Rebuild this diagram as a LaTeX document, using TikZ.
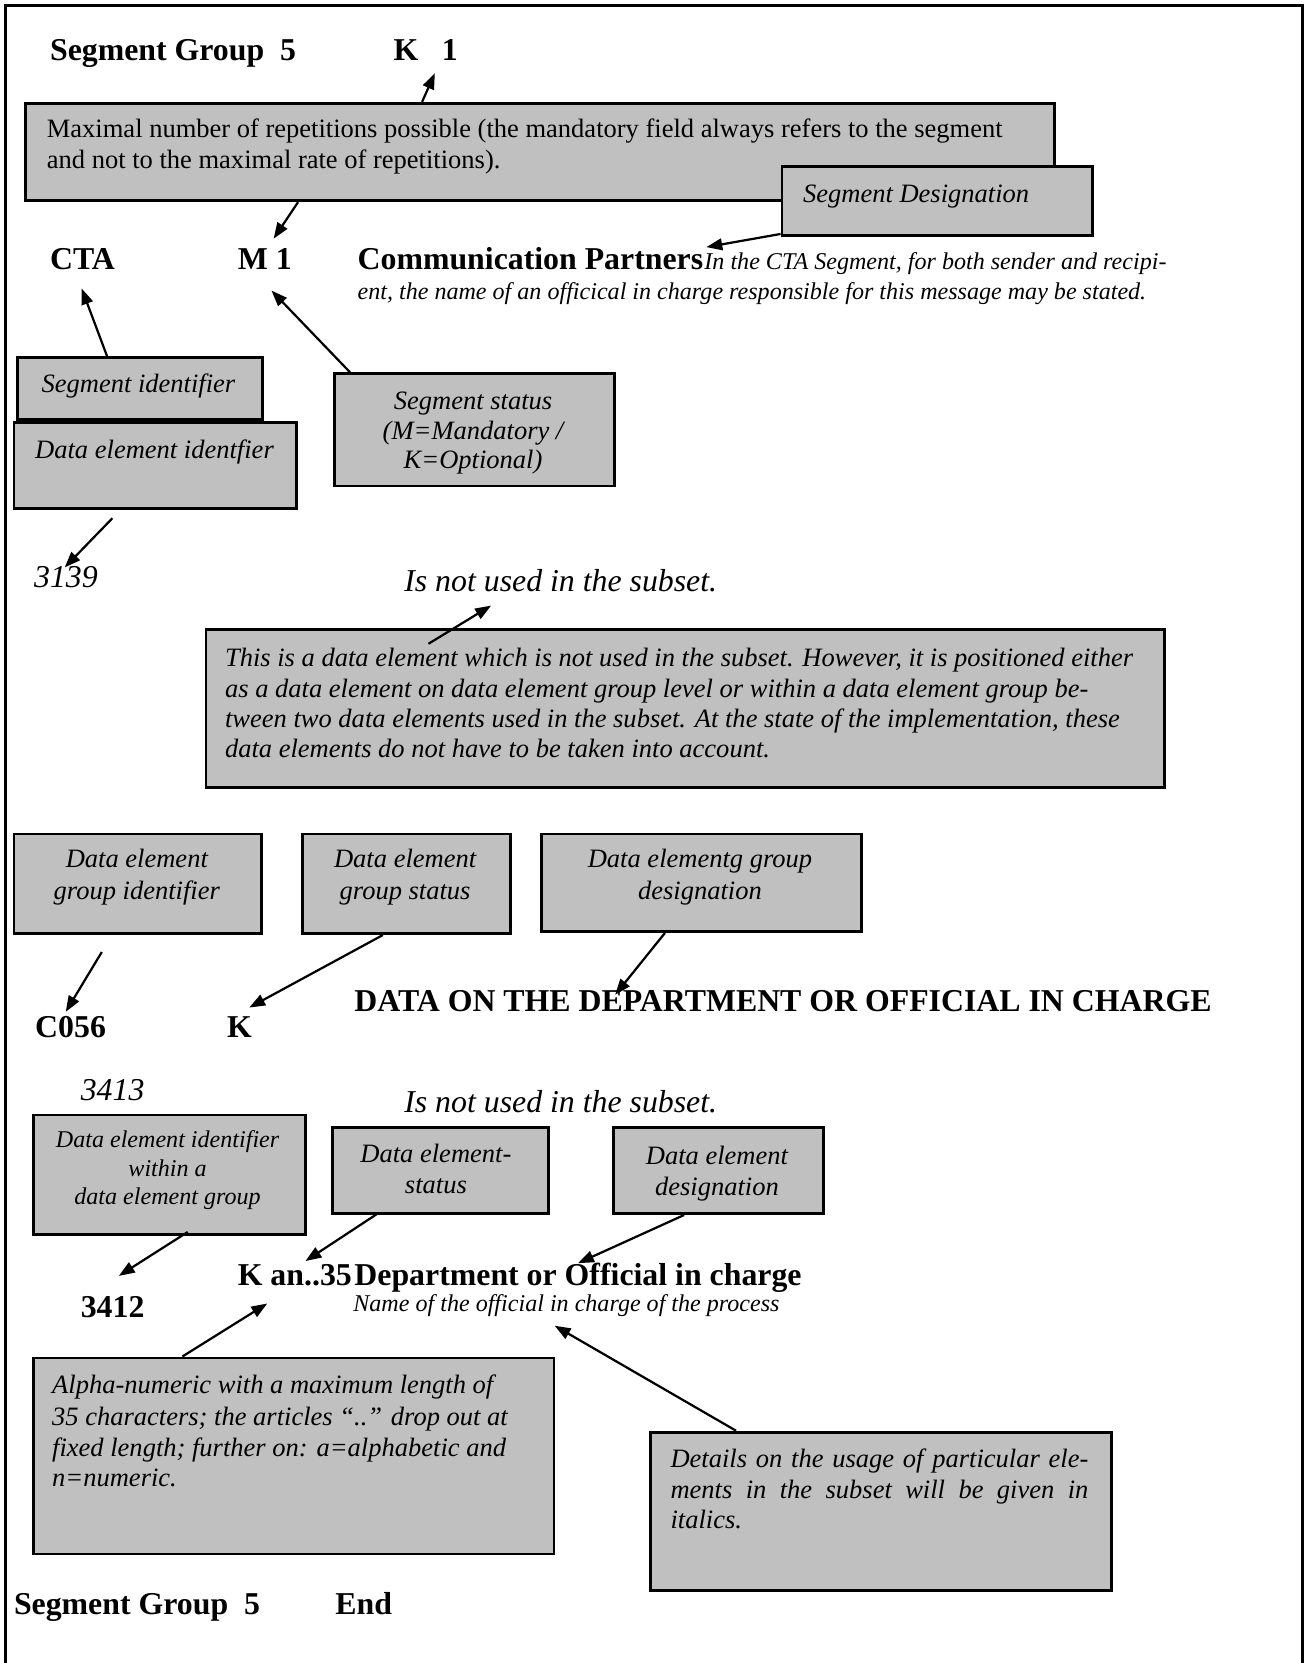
\documentclass[tikz,border=0pt]{standalone}
\usepackage{fontspec}
\setmainfont{Liberation Serif}
\usetikzlibrary{arrows.meta}
\definecolor{boxgray}{HTML}{C0C0C0}
\newcommand\fHd{\fontsize{30}{34}\selectfont\bfseries}
\newcommand\fBi{\fontsize{30}{34}\selectfont\itshape}
\newcommand\fBx{\fontsize{25}{29}\selectfont}
\newcommand\fSm{\fontsize{22.7}{26}\selectfont}
\begin{document}
\begin{tikzpicture}[x=1pt,y=-1pt,
  box/.style={draw=black,line width=2.6pt,fill=boxgray,inner sep=0pt,anchor=north west},
  lbl/.style={inner sep=0pt,anchor=base west},
  clbl/.style={inner sep=0pt,anchor=base},
  arr/.style={line width=2.1pt,-{Triangle[length=15pt,width=11pt]}}]
\useasboundingbox (0,0) rectangle (1231,1568);
\draw[line width=2.6pt] (5,1568) -- (5,5) -- (1228,5) -- (1228,1568);

% ---- top rows
\node[lbl,font=\fHd] (sg1) at (47,57) {Segment Group\ \ 5};
\node[lbl,font=\fHd] (k1) at (371,57) {K\hspace{22pt}1};

\node[box,minimum width=970pt,minimum height=92pt] (b1) at (23,96) {};
\node[lbl,font=\fBx] (b1a) at (44,130) {Maximal number of repetitions possible (the mandatory field always refers to the segment};
\node[lbl,font=\fBx] (b1b) at (44,159) {and not to the maximal rate of repetitions).};

\node[box,minimum width=293pt,minimum height=65pt] (b2) at (736,156) {};
\node[lbl,font=\fBx\itshape] (b2t) at (757,191) {Segment Designation};

\node[lbl,font=\fHd] (cta) at (47,254) {CTA};
\node[lbl,font=\fHd] (m1) at (224,254) {M 1};
\node[lbl,font=\fHd] (cp) at (337,254) {Communication Partners};
\node[lbl,font=\fSm\itshape] (cpa) at (664,254) {In the CTA Segment, for both sender and recipi-};
\node[lbl,font=\fSm\itshape] (cpb) at (337,282) {ent, the name of an officical in charge responsible for this message may be stated.};

\node[box,minimum width=231pt,minimum height=58pt] (b3) at (15,336) {};
\node[lbl,font=\fBx\itshape] (b3t) at (39,370) {Segment identifier};
\node[box,minimum width=266pt,minimum height=81pt] (b4) at (12,397) {};
\node[lbl,font=\fBx\itshape] (b4t) at (33,432) {Data element identfier};

\node[box,minimum width=264pt,minimum height=106pt] (b5) at (314,351) {};
\node[clbl,font=\fBx\itshape] (b5a) at (446,386) {Segment status};
\node[clbl,font=\fBx\itshape] (b5b) at (446,414) {(M=Mandatory /};
\node[clbl,font=\fBx\itshape] (b5c) at (446,442) {K=Optional)};

\node[lbl,font=\fBi] (n3139) at (32,554) {3139};
\node[lbl,font=\fBi] (nu1) at (381,558) {Is not used in the subset.};

\node[box,minimum width=904pt,minimum height=149pt] (b6) at (193,592) {};
\node[lbl,font=\fBx\itshape] (b6a) at (212,628.5) {This is a data element which is not used in the subset. However, it is positioned either};
\node[lbl,font=\fBx\itshape] (b6b) at (212,657.5) {as a data element on data element group level or within a data element group be-};
\node[lbl,font=\fBx\itshape] (b6c) at (212,686) {tween two data elements used in the subset. At the state of the implementation, these};
\node[lbl,font=\fBx\itshape] (b6d) at (212,714.5) {data elements do not have to be taken into account.};

% ---- data element group row
\node[box,minimum width=233pt,minimum height=94pt] (b7) at (12,785) {};
\node[clbl,font=\fBx\itshape] (b7a) at (129,818) {Data element};
\node[clbl,font=\fBx\itshape] (b7b) at (129,848) {group identifier};
\node[box,minimum width=196pt,minimum height=94pt] (b8) at (284,785) {};
\node[clbl,font=\fBx\itshape] (b8a) at (382,818) {Data element};
\node[clbl,font=\fBx\itshape] (b8b) at (382,848) {group status};
\node[box,minimum width=302pt,minimum height=92pt] (b9) at (509,785) {};
\node[clbl,font=\fBx\itshape] (b9a) at (660,818) {Data elementg group};
\node[clbl,font=\fBx\itshape] (b9b) at (660,848) {designation};

\node[lbl,font=\fHd] (c056) at (33,978) {C056};
\node[lbl,font=\fHd] (kg) at (214,978) {K};
\node[lbl,font=\fHd] (data) at (334,954) {DATA ON THE DEPARTMENT OR OFFICIAL IN CHARGE};

\node[lbl,font=\fBi] (n3413) at (76,1038) {3413};
\node[lbl,font=\fBi] (nu2) at (381,1049) {Is not used in the subset.};

\node[box,minimum width=257pt,minimum height=113pt] (b10) at (30,1050) {};
\node[clbl,font=\fSm\itshape] (b10a) at (158,1082) {Data element identifier};
\node[clbl,font=\fSm\itshape] (b10b) at (158,1109) {within a};
\node[clbl,font=\fSm\itshape] (b10c) at (158,1136) {data element group};
\node[box,minimum width=204pt,minimum height=81pt] (b11) at (312,1062) {};
\node[clbl,font=\fBx\itshape] (b11a) at (411,1096) {Data element-};
\node[clbl,font=\fBx\itshape] (b11b) at (411,1125) {status};
\node[box,minimum width=198pt,minimum height=81pt] (b12) at (577,1062) {};
\node[clbl,font=\fBx\itshape] (b12a) at (676,1098) {Data element};
\node[clbl,font=\fBx\itshape] (b12b) at (676,1127) {designation};

\node[lbl,font=\fHd] (n3412) at (76,1242) {3412};
\node[lbl,font=\fHd] (kan) at (224,1212) {K an..35};
\node[lbl,font=\fHd] (dep) at (334,1212) {Department or Official in charge};
\node[lbl,font=\fSm\itshape] (name) at (333,1237) {Name of the official in charge of the process};

\node[box,minimum width=491pt,minimum height=185pt] (b13) at (30,1279) {};
\node[lbl,font=\fBx\itshape] (b13a) at (49,1314) {Alpha-numeric with a maximum length of};
\node[lbl,font=\fBx\itshape] (b13b) at (49,1344) {35 characters; the articles “..” drop out at};
\node[lbl,font=\fBx\itshape] (b13c) at (49,1373) {fixed length; further on: a=alphabetic and};
\node[lbl,font=\fBx\itshape] (b13d) at (49,1402) {n=numeric.};

\node[box,minimum width=435pt,minimum height=149pt] (b14) at (612,1349) {};
\node[lbl,font=\fBx\itshape] (b14a) at (632,1384) {\makebox[394pt][s]{Details on the usage of particular ele-}};
\node[lbl,font=\fBx\itshape] (b14b) at (632,1412.5) {\makebox[394pt][s]{ments in the subset will be given in}};
\node[lbl,font=\fBx\itshape] (b14c) at (632,1441) {italics.};

\node[lbl,font=\fHd] (sg2) at (13,1522) {Segment Group\ \ 5};
\node[lbl,font=\fHd] (end) at (316,1522) {End};

% ---- arrow targets
\coordinate (tK1) at (410,69);
\coordinate (tM1a) at (258,225);
\coordinate (tCP) at (666,233);
\coordinate (tCTA) at (77,272);
\coordinate (tM1b) at (256,274);
\coordinate (t3139) at (61,535);
\coordinate (tNU1) at (463,571);
\coordinate (tC056) at (62,954);
\coordinate (tKg) at (235,950);
\coordinate (tDATA) at (580,938);
\coordinate (t3412) at (112,1203);
\coordinate (tKan) at (288,1189);
\coordinate (tDep) at (545,1191);
\coordinate (tKan2) at (252,1229);
\coordinate (tName) at (523,1250);

% ---- arrows
\draw[arr] ([xshift=375pt]b1.north west) -- (tK1);
\draw[arr] ([xshift=258pt]b1.south west) -- (tM1a);
\draw[arr] ([yshift=3pt]b2.south west) -- (tCP);
\draw[arr] ([xshift=86pt]b3.north west) -- (tCTA);
\draw[arr] ([xshift=16pt]b5.north west) -- (tM1b);
\draw[arr] ([xshift=94pt,yshift=-8pt]b4.south west) -- (t3139);
\draw[arr] ([xshift=211pt,yshift=-15pt]b6.north west) -- (tNU1);
\draw[arr] ([xshift=84pt,yshift=-16pt]b7.south west) -- (tC056);
\draw[arr] ([xshift=77pt]b8.south west) -- (tKg);
\draw[arr] ([xshift=118pt]b9.south west) -- (tDATA);
\draw[arr] ([xshift=147pt,yshift=4pt]b10.south west) -- (t3412);
\draw[arr] ([xshift=45pt,yshift=2pt]b11.south west) -- (tKan);
\draw[arr] ([xshift=68pt]b12.south west) -- (tDep);
\draw[arr] ([xshift=142pt]b13.north west) -- (tKan2);
\draw[arr] ([xshift=82pt]b14.north west) -- (tName);
\end{tikzpicture}
\end{document}
